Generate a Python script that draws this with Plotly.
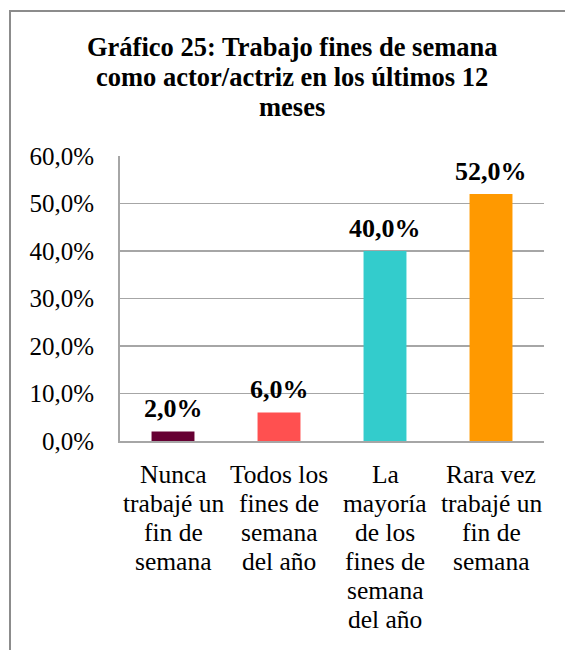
import plotly.graph_objects as go

categories = ["Nunca\ntrabajé un\nfin de\nsemana",
              "Todos los\nfines de\nsemana\ndel año",
              "La\nmayoría\nde los\nfines de\nsemana\ndel año",
              "Rara vez\ntrabajé un\nfin de\nsemana"]
values = [2.0, 6.0, 40.0, 52.0]
value_labels = ["2,0%", "6,0%", "40,0%", "52,0%"]
colors = ["#660033", "#FF5050", "#33CCCC", "#FF9900"]
tick_vals = [0, 10, 20, 30, 40, 50, 60]
tick_text = ["0,0%", "10,0%", "20,0%", "30,0%", "40,0%", "50,0%", "60,0%"]
title_lines = ["Gráfico 25: Trabajo fines de semana",
               "como actor/actriz en los últimos 12",
               "meses"]

W, H = 565, 650
L, R, T, B = 120, 21, 156, 209
pw, ph = W - L - R, H - T - B

FONT = "Liberation Serif, Times New Roman, serif"


def px_x(x):
    return (x - L) / pw


def px_y(y):
    return (H - B - y) / ph


fig = go.Figure()
fig.add_trace(go.Bar(x=categories, y=values,
                     marker=dict(color=colors, line=dict(width=0)),
                     width=0.405, hoverinfo="skip"))

# value labels above bars
for c, v, t in zip(categories, values, value_labels):
    fig.add_annotation(x=c, y=v, text="<b>" + t + "</b>", showarrow=False,
                       yanchor="middle", yshift=23,
                       font=dict(family=FONT, size=26, color="black"))

# category labels (tight line spacing)
CAT_FS = 25.5
CAT_BASE0 = 482.5
CAT_STEP = 29
for c in categories:
    for i, line in enumerate(c.split("\n")):
        base = CAT_BASE0 + i * CAT_STEP
        fig.add_annotation(x=c, xref="x", yref="paper",
                           y=px_y(base - 0.3 * CAT_FS), yanchor="middle",
                           text=line, showarrow=False,
                           font=dict(family=FONT, size=CAT_FS, color="black"))

# title
TITLE_FS = 26.5
title_bases = [55, 85, 115]
for line, base in zip(title_lines, title_bases):
    fig.add_annotation(xref="paper", yref="paper", x=px_x(292),
                       y=px_y(base - 0.3 * TITLE_FS), yanchor="middle",
                       text="<b>" + line + "</b>", showarrow=False,
                       font=dict(family=FONT, size=TITLE_FS, color="black"))

# outer chart frame
fig.add_shape(type="rect", xref="paper", yref="paper",
              x0=px_x(10), y0=px_y(680), x1=px_x(600), y1=px_y(11),
              line=dict(color="#8c8c8c", width=2), fillcolor="rgba(0,0,0,0)",
              layer="below")

fig.update_layout(
    width=W, height=H,
    margin=dict(l=L, r=R, t=T, b=B, autoexpand=False),
    plot_bgcolor="white", paper_bgcolor="white",
    showlegend=False,
    font=dict(family=FONT, size=25, color="black"),
)
fig.update_yaxes(range=[0, 60], tickvals=tick_vals, ticktext=tick_text,
                 showgrid=True, gridcolor="#a6a6a6", gridwidth=1.5,
                 showline=True, linecolor="#a6a6a6", linewidth=2,
                 zeroline=False, ticks="", ticklabelstandoff=19,
                 tickfont=dict(family=FONT, size=25, color="black"))
fig.update_xaxes(showline=True, linecolor="#a6a6a6", linewidth=2, ticks="",
                 showticklabels=False)

fig.write_html("out.html",
               config={"displayModeBar": False, "staticPlot": True},
               post_script="document.body.style.margin='0';"
                           "document.body.style.overflow='hidden';")
